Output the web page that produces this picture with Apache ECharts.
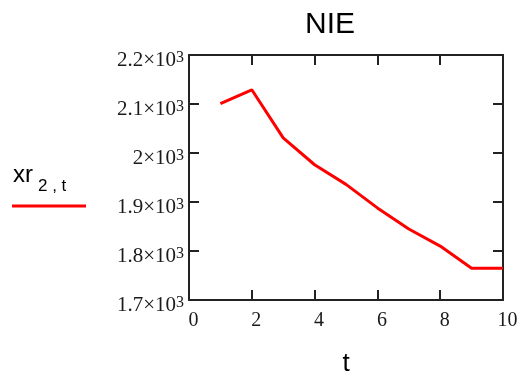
<!DOCTYPE html>
<html>
<head>
<meta charset="utf-8">
<script src="https://cdn.jsdelivr.net/npm/echarts@6/dist/echarts.min.js"></script>
<style>
  html, body { margin: 0; padding: 0; background: #fff; }
  #main { width: 523px; height: 376px; }
</style>
</head>
<body>
<div id="main"></div>
<script>
// data
var tValues = [1, 2, 3, 4, 5, 6, 7, 8, 9, 10];
var xrValues = [2101, 2129, 2031, 1976, 1936, 1888, 1845, 1810, 1765, 1765];
var xTicks = [0, 2, 4, 6, 8, 10];
var yTicks = [1700, 1800, 1900, 2000, 2100, 2200];

var chart = echarts.init(document.getElementById("main"));

var frameColor = "#222";
var serif = "Liberation Serif";
var sans = "Liberation Sans";

var pts = tValues.map(function (t, i) { return [t, xrValues[i]]; });

chart.setOption({
  animation: false,
  // fixed plot box, don't let v6 shrink it for the labels
  grid: { left: 189, top: 55, width: 314, height: 245, outerBoundsMode: "none" },
  graphic: [
    // title
    { type: "text", x: 330, y: 25,
      style: { text: "NIE", font: "30px " + sans, fill: "#000", align: "center", verticalAlign: "middle" } },
    // legend key
    { type: "text", x: 13, y: 175,
      style: { text: "xr", font: "24px " + sans, fill: "#000", align: "left", verticalAlign: "middle" } },
    { type: "text", x: 38, y: 186,
      style: { text: "2 , t", font: "17px " + sans, fill: "#000", align: "left", verticalAlign: "middle" } },
    { type: "line", shape: { x1: 12, y1: 206, x2: 86, y2: 206 },
      style: { stroke: "#ff0000", lineWidth: 3 } }
  ],
  xAxis: [
    {
      type: "value", position: "bottom",
      min: xTicks[0], max: xTicks[xTicks.length - 1], interval: 2,
      name: "t", nameLocation: "middle", nameGap: 51,
      nameTextStyle: { fontFamily: sans, fontSize: 26, color: "#000" },
      axisLine: { show: true, onZero: false, lineStyle: { color: frameColor, width: 2 } },
      axisTick: { show: true, inside: true, length: 10, lineStyle: { color: frameColor, width: 2 } },
      axisLabel: { margin: 11, fontFamily: serif, fontSize: 20, color: "#1a1a1a", padding: [0, 0, 0, 9] },
      splitLine: { show: false }
    },
    {
      type: "value", position: "top",
      min: xTicks[0], max: xTicks[xTicks.length - 1], interval: 2,
      axisLine: { show: true, onZero: false, lineStyle: { color: frameColor, width: 2 } },
      axisTick: { show: true, inside: true, length: 10, lineStyle: { color: frameColor, width: 2 } },
      axisLabel: { show: false },
      splitLine: { show: false }
    }
  ],
  yAxis: [
    {
      type: "value", position: "left",
      min: yTicks[0], max: yTicks[yTicks.length - 1], interval: 100,
      axisLine: { show: true, onZero: false, lineStyle: { color: frameColor, width: 2 } },
      axisTick: { show: true, inside: true, length: 10, lineStyle: { color: frameColor, width: 2 } },
      axisLabel: {
        margin: 5,
        padding: [11, 0, 0, 0],
        formatter: function (v) {
          return "{b|" + (v / 1000) + "×10}{s|3}";
        },
        rich: {
          b: { fontFamily: serif, fontSize: 21, color: "#1a1a1a", lineHeight: 21, verticalAlign: "bottom" },
          s: { fontFamily: serif, fontSize: 16, color: "#1a1a1a", lineHeight: 16, verticalAlign: "top", padding: [0, 0, 12, 0] }
        }
      },
      splitLine: { show: false }
    },
    {
      type: "value", position: "right",
      min: yTicks[0], max: yTicks[yTicks.length - 1], interval: 100,
      axisLine: { show: true, onZero: false, lineStyle: { color: frameColor, width: 2 } },
      axisTick: { show: true, inside: true, length: 10, lineStyle: { color: frameColor, width: 2 } },
      axisLabel: { show: false },
      splitLine: { show: false }
    }
  ],
  series: [
    {
      name: "xr",
      type: "line",
      xAxisIndex: 0,
      yAxisIndex: 0,
      data: pts,
      showSymbol: false,
      lineStyle: { color: "#ff0000", width: 3 },
      itemStyle: { color: "#ff0000" }
    }
  ]
});
</script>
</body>
</html>
